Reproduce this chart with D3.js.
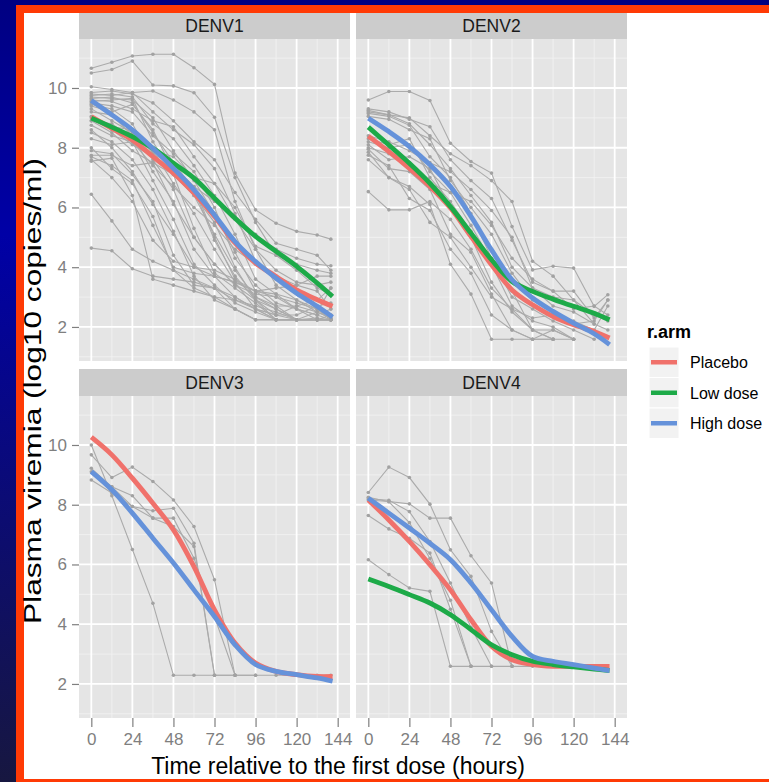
<!DOCTYPE html>
<html>
<head>
<meta charset="utf-8">
<script src="https://cdn.jsdelivr.net/npm/d3@7"></script>
<style>
body { margin: 0; background: #000088; }
svg { display: block; font-family: "Liberation Sans", Arial, sans-serif; }
</style>
</head>
<body>
<div id="chart-area"></div>
<script>

// sampling times (hours) for the individual subjects
var hours = [0, 12, 24, 36, 48, 60, 72, 84, 96, 108, 120, 132, 140];
var smoothHours = [0, 12, 24, 36, 48, 60, 72, 84, 96, 108, 120, 132, 141];

var serotypes = ["DENV1", "DENV2", "DENV3", "DENV4"];
var arms = ["Placebo", "Low dose", "High dose"];
var armColors = ["#F0716B", "#1DAA48", "#6592DA"];

var xTicks = [0, 24, 48, 72, 96, 120, 144];
var yTicks = [2, 4, 6, 8, 10];
var xMinor = [12, 36, 60, 84, 108, 132];
var yMinor = [1, 3, 5, 7, 9, 11];

// log10 viremia per subject (null = no sample)
var denv1Subjects = [
	[10.66, 10.86, 11.07, 11.13, 11.13, 10.68, 10.12, 7.15, 5.92, 5.47, 5.20, 5.08, 4.94],
	[10.50, 10.62, 10.90, 10.10, 10.07, 9.84, 9.02, 7.00, 5.50, 4.40, 3.90, 3.30, 3.10],
	[10.04, 9.95, 9.85, 9.90, 9.60, 9.20, 8.60, 6.20, 4.60, 3.90, 3.50, 3.40, 3.50],
	[9.85, 9.90, 9.80, 9.50, 8.90, 8.20, 7.60, 6.50, 5.60, 4.80, 4.60, 4.40, 3.90],
	[9.80, 9.75, 9.85, 9.20, 8.60, 8.10, 7.30, 5.80, 4.20, 3.60, 3.20, 2.60, 2.24],
	[9.75, 9.80, 9.70, 8.80, 8.30, 7.40, 6.40, 5.10, 3.60, 3.10, 2.60, 2.24, 2.24],
	[9.70, 9.65, 9.60, 9.00, 7.90, 6.90, 5.80, 4.50, 3.20, 2.70, 2.24, 2.24, 2.40],
	[9.65, 9.70, 9.50, 8.50, 7.50, 6.60, 4.90, 3.70, 2.90, 2.40, 2.24, 2.24, 2.24],
	[9.60, 9.55, 9.30, 8.90, 8.70, 7.70, 6.80, 5.60, 4.60, 3.40, 2.90, 2.50, 2.30],
	[9.55, 9.60, 9.65, 8.20, 7.10, 5.30, 3.80, 3.30, 2.80, 2.24, 2.24, 2.24, 2.24],
	[9.50, 9.40, 9.20, 8.40, 7.80, 7.20, 6.00, 4.30, 3.40, 2.80, 2.60, 2.40, 2.60],
	[9.45, 9.30, 8.80, 7.60, 6.60, 5.00, 4.10, 3.40, 2.90, 2.60, 2.24, 2.24, 2.24],
	[9.40, 9.20, 9.45, 8.60, 7.20, 6.40, 5.50, 4.00, 2.90, 2.24, 2.24, 2.50, 2.30],
	[9.30, 8.90, 8.50, 7.90, 6.80, 5.80, 4.60, 3.50, 2.60, 2.40, 2.40, 2.70, 2.80],
	[9.20, 9.10, 8.40, 7.20, 6.20, 4.60, 3.70, 3.00, 2.60, 2.24, 2.24, 2.30, 2.24],
	[9.05, 8.70, 8.60, 7.80, 7.40, 6.70, 5.00, 3.60, 3.00, 2.70, 2.70, 2.50, 3.30],
	[8.90, 8.50, 7.90, 7.50, 6.10, 5.00, 4.10, 3.40, 3.10, 3.00, 2.80, 2.60, 2.40],
	[8.75, 8.40, 8.20, 6.90, 5.60, 4.10, 3.40, 2.80, 2.50, 2.24, 2.24, 2.24, 2.24],
	[8.60, 8.00, 7.20, 6.10, 5.10, 4.00, 3.70, 3.50, 3.20, 3.30, 3.40, 3.20, 2.60],
	[8.50, 8.20, 7.60, 6.60, 5.20, 3.70, 2.90, 2.60, 2.24, 2.24, 2.24, 2.24, 2.24],
	[8.30, 8.10, 8.20, 7.40, 6.70, 6.00, 5.40, 4.60, 4.10, 3.70, 3.40, 3.70, 3.70],
	[8.00, 7.30, 6.80, 5.70, 3.90, 3.60, 3.30, 2.90, 2.70, 2.50, 2.24, 2.24, 2.24],
	[7.90, 7.80, 7.10, 6.20, 4.40, 3.40, 3.30, 3.00, 2.60, 2.40, 2.70, 2.90, 3.30],
	[7.75, 7.75, 7.40, 7.50, 7.10, 6.40, 5.10, 3.90, 3.00, 2.60, 2.24, 2.24, 2.24],
	[7.70, 7.40, 6.90, 5.40, 4.00, 3.80, 3.70, 3.50, 3.20, 3.10, 2.90, 2.60, 2.24],
	[7.60, 7.00, 6.20, 4.90, 4.20, 4.00, 3.90, 3.60, 3.20, 3.00, 2.60, 2.40, 2.24],
	[7.55, 7.65, 6.40, 3.60, 3.40, 3.20, 3.00, 2.90, 2.60, 2.24, 2.24, 2.24, 2.24],
	[6.44, 5.55, 4.60, 4.20, 3.90, 3.30, 3.00, 2.60, 2.24, 2.24, 2.24, 2.24, 2.24],
	[4.64, 4.55, 3.95, 3.70, 3.60, 3.50, 3.30, 2.60, 2.24, 2.24, 2.24, 2.24, 2.24],
	[8.90, 8.80, 8.30, 7.90, 7.70, 7.00, 6.80, 6.00, 4.70, 4.40, 4.10, 3.90, 3.80],
	[9.00, 8.60, 8.10, 7.70, 7.20, 6.70, 6.20, 5.70, 5.10, 4.60, 4.30, 4.10, 4.05]
];

var denv2Subjects = [
	[9.60, 9.88, 9.88, 9.58, 8.15, 7.54, 7.15, 5.36, 3.91, 4.03, 3.97, 2.69, 3.08],
	[9.30, 9.20, 8.95, 8.70, 7.60, 6.90, 6.30, 4.90, 3.50, 3.20, 3.20, 2.30, 2.90],
	[9.25, 9.10, 8.80, 8.10, 7.30, 6.40, 5.50, 4.00, 3.30, 3.00, 2.90, 2.10],
	[9.15, 9.05, 8.75, 7.70, 7.00, 5.80, 4.30, 3.00, 2.60, 2.20, 1.90, 1.59],
	[9.05, 8.95, 8.60, 8.30, 6.90, 6.00, 5.10, 3.80, 2.90, 2.50, 2.20, 1.90, 2.70],
	[8.20, 8.00, 8.10, 7.20, 6.50, 5.40, 4.20, 3.20, 1.90, 1.90, 1.59],
	[8.10, 7.60, 7.70, 7.30, 6.00, 5.00, 3.50, 2.50, 1.90, 1.59, 1.59],
	[7.95, 7.30, 7.20, 6.60, 5.10, 4.50, 3.10, 1.90, 1.59, 1.59],
	[7.85, 7.00, 6.70, 6.10, 4.10, 3.10, 1.59, 1.59, 1.59, 1.59],
	[7.75, 7.40, 6.30, 5.90, 4.60, 3.80, 2.40, 1.90, 1.59, 1.90, 1.59],
	[7.60, 7.00, 6.60, 5.50, 5.00, 4.00, 3.00, 2.60, 2.30, 2.40, 2.10, 2.20, 2.90],
	[6.53, 5.92, 5.92, 6.20, 5.60, 4.60, 3.30, 2.60, 1.90, 1.59],
	[8.40, 8.20, 7.90, 7.50, 7.20, 6.60, 5.90, 5.00, 3.30, 2.70, 2.50, 2.10, 1.90],
	[8.30, 8.10, 8.30, 7.00, 6.20, 5.20, 4.10, 2.70, 2.20, 2.00, 1.59],
	[9.20, 9.10, 9.00, 8.40, 7.80, 7.40, 6.90, 6.20, 4.20, 3.70, 2.90, 2.40, 2.20],
	[8.00, 7.80, 7.50, 6.80, 6.50, 6.20, 5.40, 4.30, 3.60, 3.20, 2.60, 2.70, 2.40]
];

var denv3Subjects = [
	[10.00, 8.30, 6.50, 4.70, 2.29, 2.29, 2.29, 2.29, 2.29],
	[9.67, 8.91, 9.26, 8.78, 8.16, 7.27, 5.49, 2.29],
	[9.22, 8.60, 7.94, 7.80, 7.88, 6.71, 2.29],
	[8.83, 8.39, 7.94, 7.55, 7.55, 6.21, null, 2.29],
	[9.10, 8.60, 8.30, 7.55, 7.27, 6.60, 2.29, 2.29, 2.29, 2.29, 2.29, 2.29, 2.29]
];

var denv4Subjects = [
	[8.41, 9.26, 8.91, 8.02, 6.49, 5.60, 3.76, 2.59],
	[8.16, 8.11, 8.03, 7.55, 7.55, 6.29, 5.38, 2.59],
	[8.20, 8.15, 7.77, 6.77, 5.38, 3.90, 2.59],
	[7.64, 7.19, 6.88, 6.38, 4.50, 2.59],
	[6.16, 5.66, 5.21, 5.10, 2.59, 2.59, 2.59, 2.59, 2.59],
	[8.25, 8.10, 7.40, 6.20, 4.80, 2.59]
];

// smooth fits per arm (Placebo, Low dose, High dose)
var denv1Placebo = [9.04, 8.65, 8.26, 7.70, 7.15, 6.48, 5.70, 4.81, 4.14, 3.69, 3.24, 2.91, 2.69];
var denv1Low     = [8.99, 8.69, 8.37, 7.98, 7.48, 6.98, 6.31, 5.64, 5.03, 4.53, 4.03, 3.47, 3.02];
var denv1High    = [9.58, 9.10, 8.60, 7.98, 7.31, 6.59, 5.75, 4.86, 4.19, 3.63, 3.13, 2.69, 2.33];

var denv2Placebo = [8.39, 7.87, 7.31, 6.70, 5.98, 5.03, 4.08, 3.24, 2.74, 2.35, 2.07, 1.85, 1.63];
var denv2Low     = [8.69, 8.09, 7.48, 6.81, 6.03, 5.14, 4.25, 3.52, 3.19, 2.93, 2.69, 2.46, 2.24];
var denv2High    = [8.99, 8.54, 8.04, 7.43, 6.70, 5.70, 4.58, 3.58, 2.97, 2.52, 2.13, 1.77, 1.41];

var denv3Placebo = [10.26, 9.67, 8.89, 8.05, 7.16, 5.93, 4.48, 3.37, 2.70, 2.42, 2.31, 2.25, 2.25];
var denv3High    = [9.11, 8.50, 7.72, 6.88, 6.05, 5.15, 4.26, 3.31, 2.65, 2.42, 2.31, 2.20, 2.09];

var denv4Placebo = [8.16, 7.49, 6.77, 5.99, 5.15, 4.15, 3.26, 2.81, 2.65, 2.59, 2.59, 2.59, 2.59];
var denv4Low     = [5.51, 5.26, 4.99, 4.71, 4.32, 3.82, 3.31, 2.98, 2.76, 2.65, 2.57, 2.50, 2.45];
var denv4High    = [8.22, 7.72, 7.22, 6.71, 6.16, 5.38, 4.48, 3.59, 2.92, 2.76, 2.65, 2.53, 2.45];

var panels = [
	{ name: serotypes[0], subjects: denv1Subjects, fits: [denv1Placebo, denv1Low, denv1High] },
	{ name: serotypes[1], subjects: denv2Subjects, fits: [denv2Placebo, denv2Low, denv2High] },
	{ name: serotypes[2], subjects: denv3Subjects, fits: [denv3Placebo, null, denv3High] },
	{ name: serotypes[3], subjects: denv4Subjects, fits: [denv4Placebo, denv4Low, denv4High] }
];

//layout
var W = 769, H = 782;
var colX = [79, 356], rowStrip = [13, 369], rowPanel = [39, 396];
var panelW = 271, panelH = 322;

var svg = d3.select("#chart-area")
	.append("svg")
		.attr("width", W)
		.attr("height", H);

// slide background + frame
var grad = svg.append("defs").append("linearGradient")
	.attr("id", "bg").attr("x1", 0).attr("y1", 0).attr("x2", 0).attr("y2", 1);
grad.append("stop").attr("offset", "0%").attr("stop-color", "#000082");
grad.append("stop").attr("offset", "30%").attr("stop-color", "#0000A6");
grad.append("stop").attr("offset", "100%").attr("stop-color", "#171740");

svg.append("rect").attr("width", W).attr("height", H).attr("fill", "url(#bg)");
svg.append("rect").attr("x", 16).attr("y", 5).attr("width", W - 16).attr("height", H - 5)
	.attr("fill", "#FF3A05");
svg.append("rect").attr("x", 24).attr("y", 13).attr("width", W - 24).attr("height", 766)
	.attr("fill", "#FFFFFF");

//scales
var x = d3.scaleLinear()
	.domain([-7.2, 151.2])
	.range([0, panelW]);

var y = d3.scaleLinear()
	.domain([0.86, 11.64])
	.range([panelH, 0]);

var subjLine = d3.line()
	.defined(function(d){ return d[1] != null; })
	.x(function(d){ return x(d[0]); })
	.y(function(d){ return y(d[1]); });

var fitLine = d3.line()
	.x(function(d){ return x(d[0]); })
	.y(function(d){ return y(d[1]); })
	.curve(d3.curveCatmullRom);

panels.forEach(function(p, i){
	var col = i % 2, row = Math.floor(i / 2);
	var px = colX[col], py = rowPanel[row];

	// strip
	svg.append("rect")
		.attr("x", px).attr("y", rowStrip[row])
		.attr("width", panelW).attr("height", py - rowStrip[row])
		.attr("fill", "#CCCCCC");
	svg.append("text")
		.attr("x", px + panelW / 2)
		.attr("y", (rowStrip[row] + py) / 2 + 6)
		.attr("text-anchor", "middle")
		.attr("font-size", "17.5px")
		.attr("fill", "#1A1A1A")
		.text(p.name);

	var g = svg.append("g")
		.attr("transform", "translate(" + px + ", " + py + ")");

	g.append("rect").attr("width", panelW).attr("height", panelH).attr("fill", "#E5E5E5");

	// minor grid
	g.selectAll(".vminor").data(xMinor).enter().append("line")
		.attr("x1", function(d){ return x(d); }).attr("x2", function(d){ return x(d); })
		.attr("y1", 0).attr("y2", panelH)
		.attr("stroke", "#F2F2F2").attr("stroke-width", 0.9);
	g.selectAll(".hminor").data(yMinor).enter().append("line")
		.attr("y1", function(d){ return y(d); }).attr("y2", function(d){ return y(d); })
		.attr("x1", 0).attr("x2", panelW)
		.attr("stroke", "#F2F2F2").attr("stroke-width", 0.9);
	// major grid
	g.selectAll(".vmajor").data(xTicks).enter().append("line")
		.attr("x1", function(d){ return x(d); }).attr("x2", function(d){ return x(d); })
		.attr("y1", 0).attr("y2", panelH)
		.attr("stroke", "#FFFFFF").attr("stroke-width", 1.8);
	g.selectAll(".hmajor").data(yTicks).enter().append("line")
		.attr("y1", function(d){ return y(d); }).attr("y2", function(d){ return y(d); })
		.attr("x1", 0).attr("x2", panelW)
		.attr("stroke", "#FFFFFF").attr("stroke-width", 1.8);

	// individual subjects
	p.subjects.forEach(function(vals){
		var pts = vals.map(function(v, j){ return [hours[j], v]; })
			.filter(function(d){ return d[1] != null; });
		g.append("path")
			.attr("d", subjLine(pts))
			.attr("fill", "none")
			.attr("stroke", "#ABABAB")
			.attr("stroke-width", 1.1);
		g.selectAll(null).data(pts).enter().append("circle")
			.attr("cx", function(d){ return x(d[0]); })
			.attr("cy", function(d){ return y(d[1]); })
			.attr("r", 1.8)
			.attr("fill", "#A2A2A2");
	});

	// smooth fits
	p.fits.forEach(function(vals, k){
		if (!vals) { return; }
		var pts = vals.map(function(v, j){ return [smoothHours[j], v]; });
		g.append("path")
			.attr("d", fitLine(pts))
			.attr("fill", "none")
			.attr("stroke", armColors[k])
			.attr("stroke-width", 4.8)
			.attr("stroke-linecap", "butt");
	});

	// axes
	if (col == 0) {
		var yAxis = g.append("g")
			.call(d3.axisLeft(y).tickValues(yTicks).tickSize(7).tickPadding(5)
				.tickFormat(function(d){ return d; }));
		styleAxis(yAxis);
	}
	if (row == 1) {
		var xAxis = g.append("g")
			.attr("transform", "translate(0, " + panelH + ")")
			.call(d3.axisBottom(x).tickValues(xTicks).tickSize(9).tickPadding(6)
				.tickFormat(function(d){ return d; }));
		styleAxis(xAxis);
	}
});

function styleAxis(a) {
	a.select(".domain").remove();
	a.selectAll(".tick line").attr("stroke", "#7F7F7F").attr("stroke-width", 1.2);
	a.selectAll(".tick text")
		.attr("fill", "#7F7F7F")
		.attr("font-size", "17px")
		.attr("font-family", "Liberation Sans, Arial, sans-serif");
}

//axis titles
svg.append("text")
	.attr("x", 338)
	.attr("y", 774)
	.attr("text-anchor", "middle")
	.attr("font-size", "23px")
	.attr("fill", "#000")
	.text("Time relative to the first dose (hours)");

// the y title is drawn taller in the reference, so stretch it along its length
svg.append("text")
	.attr("transform", "translate(41, 391) rotate(-90)")
	.attr("text-anchor", "middle")
	.attr("font-size", "23px")
	.attr("fill", "#000")
	.attr("textLength", 466)
	.attr("lengthAdjust", "spacingAndGlyphs")
	.text("Plasma viremia (log10 copies/ml)");

//legend
var legend = svg.append("g").attr("transform", "translate(647, 0)");
legend.append("text")
	.attr("x", 0).attr("y", 338)
	.attr("font-size", "18px")
	.attr("font-weight", "bold")
	.text("r.arm");

arms.forEach(function(arm, i){
	var ky = 347 + i * 30.5;
	legend.append("rect")
		.attr("x", 2).attr("y", ky)
		.attr("width", 30).attr("height", 30.5)
		.attr("fill", "#F2F2F2")
		.attr("stroke", "#FFFFFF").attr("stroke-width", 1);
	legend.append("line")
		.attr("x1", 4).attr("x2", 30)
		.attr("y1", ky + 15.25).attr("y2", ky + 15.25)
		.attr("stroke", armColors[i])
		.attr("stroke-width", 4.5);
	legend.append("text")
		.attr("x", 43).attr("y", ky + 21)
		.attr("font-size", "16px")
		.attr("fill", "#000")
		.text(arm);
});

</script>
</body>
</html>
